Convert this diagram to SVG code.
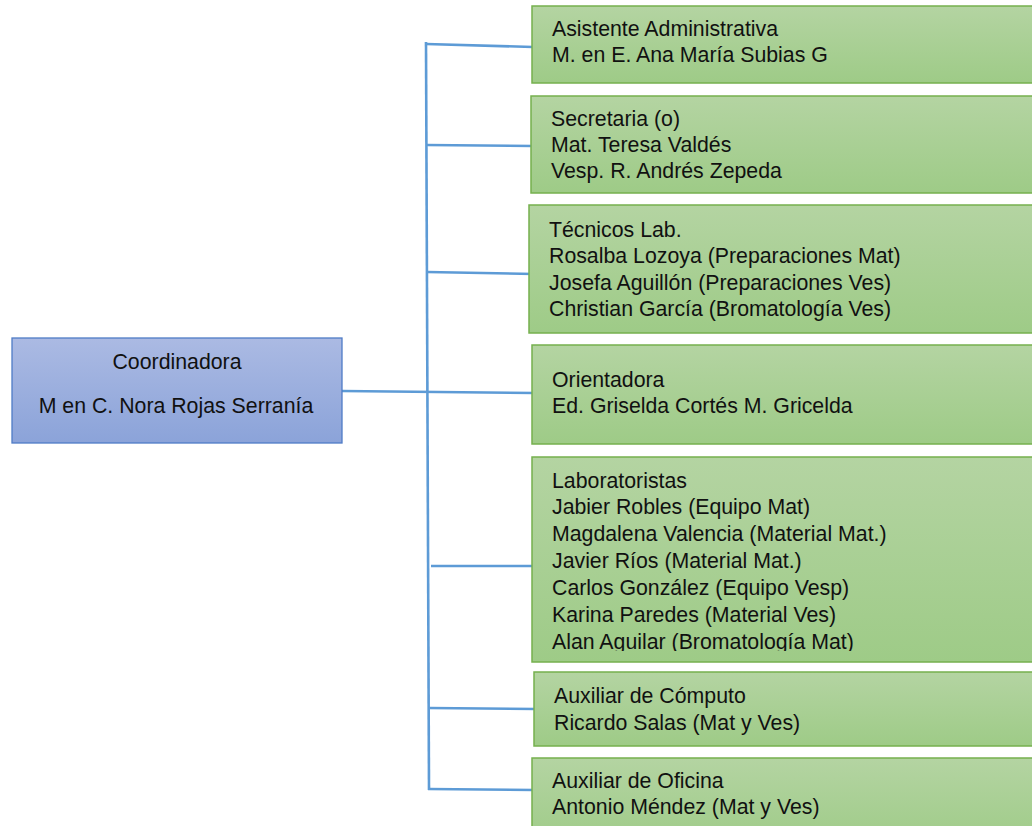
<svg xmlns="http://www.w3.org/2000/svg" width="1032" height="826" viewBox="0 0 1032 826">
<defs>
<linearGradient id="gGreen" x1="0" y1="0" x2="0" y2="1">
<stop offset="0" stop-color="#b4d4a2"/>
<stop offset="1" stop-color="#9ecb87"/>
</linearGradient>
<linearGradient id="gBlue" x1="0" y1="0" x2="0" y2="1">
<stop offset="0" stop-color="#abbae3"/>
<stop offset="1" stop-color="#8ba3d9"/>
</linearGradient>
<clipPath id="clipLab"><rect x="532" y="457" width="520" height="194"/></clipPath>
</defs>
<style>
.g{fill:url(#gGreen);stroke:#75b04e;stroke-width:1.5}
.b{fill:url(#gBlue);stroke:#4f7cc6;stroke-width:1.3}
text{font-family:"Liberation Sans",Arial,sans-serif;font-size:21.3px;fill:#111}
.c{text-anchor:middle}
.ln{stroke:#5d9bd6;stroke-width:2.6;fill:none}
</style>
<rect width="1032" height="826" fill="#ffffff"/>
<g id="connectors">
<line class="ln" x1="426" y1="42" x2="429" y2="790"/>
<line class="ln" x1="426" y1="44" x2="533" y2="47"/>
<line class="ln" x1="426" y1="145" x2="533" y2="146"/>
<line class="ln" x1="427" y1="272" x2="534" y2="274"/>
<line class="ln" x1="342" y1="391" x2="534" y2="393"/>
<line class="ln" x1="431" y1="566" x2="537" y2="566"/>
<line class="ln" x1="429" y1="708" x2="536" y2="709"/>
<line class="ln" x1="428" y1="789" x2="534" y2="790"/>
</g>
<g id="coordinadora">
<rect class="b" x="12" y="338" width="330" height="105"/>
<text class="c" x="177" y="369">Coordinadora</text>
<text class="c" x="176" y="413">M en C. Nora Rojas Serranía</text>
</g>
<g id="asistente">
<rect class="g" x="532" y="6" width="520" height="77"/>
<text x="552" y="36">Asistente Administrativa</text>
<text x="552" y="62">M. en E. Ana María Subias G</text>
</g>
<g id="secretaria">
<rect class="g" x="531" y="96" width="520" height="97"/>
<text x="551" y="126">Secretaria (o)</text>
<text x="551" y="152">Mat. Teresa Valdés</text>
<text x="551" y="178">Vesp. R. Andrés Zepeda</text>
</g>
<g id="tecnicos">
<rect class="g" x="529" y="205" width="520" height="128"/>
<text x="549" y="237">Técnicos Lab.</text>
<text x="549" y="263">Rosalba Lozoya (Preparaciones Mat)</text>
<text x="549" y="290">Josefa Aguillón (Preparaciones Ves)</text>
<text x="549" y="316">Christian García (Bromatología Ves)</text>
</g>
<g id="orientadora">
<rect class="g" x="532" y="345" width="520" height="99"/>
<text x="552" y="387">Orientadora</text>
<text x="552" y="413">Ed. Griselda Cortés M. Gricelda</text>
</g>
<g id="laboratoristas">
<rect class="g" x="532" y="457" width="520" height="205"/>
<g clip-path="url(#clipLab)">
<text x="552" y="488">Laboratoristas</text>
<text x="552" y="514">Jabier Robles (Equipo Mat)</text>
<text x="552" y="541">Magdalena Valencia (Material Mat.)</text>
<text x="552" y="568">Javier Ríos (Material Mat.)</text>
<text x="552" y="595">Carlos González (Equipo Vesp)</text>
<text x="552" y="622">Karina Paredes (Material Ves)</text>
<text x="552" y="649">Alan Aguilar (Bromatología Mat)</text>
</g>
</g>
<g id="computo">
<rect class="g" x="534" y="672" width="520" height="74"/>
<text x="554" y="703">Auxiliar de Cómputo</text>
<text x="554" y="730">Ricardo Salas (Mat y Ves)</text>
</g>
<g id="oficina">
<rect class="g" x="532" y="758" width="520" height="90"/>
<text x="552" y="788">Auxiliar de Oficina</text>
<text x="552" y="814">Antonio Méndez (Mat y Ves)</text>
</g>
</svg>
